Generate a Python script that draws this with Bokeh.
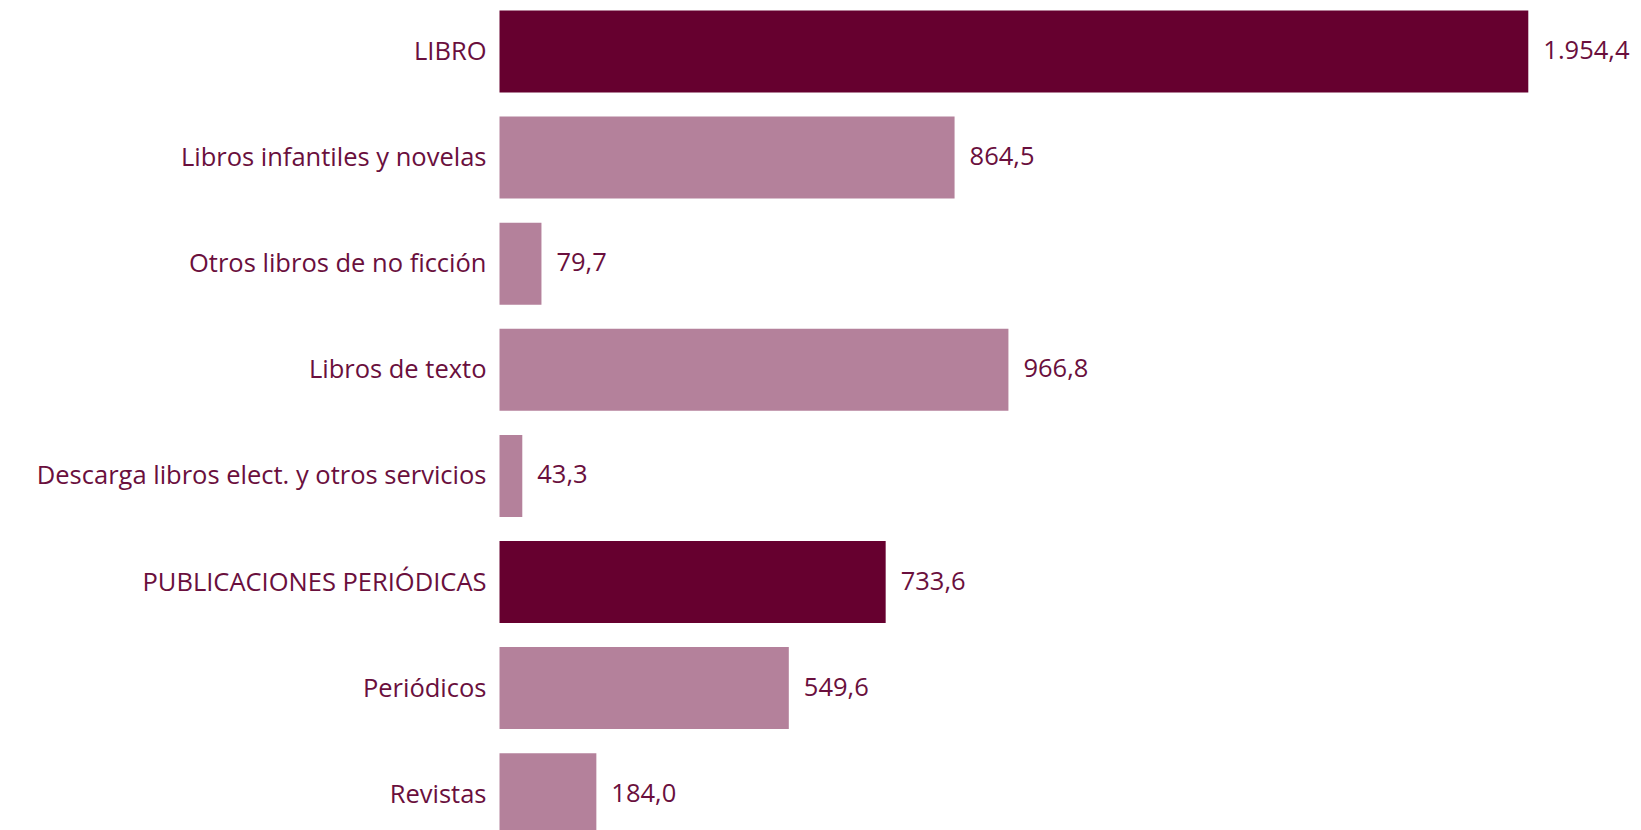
from bokeh.plotting import figure
from bokeh.models import ColumnDataSource, Range1d
from bokeh.core.properties import value
from bokeh.embed import file_html
from bokeh.resources import INLINE

categories = [
    "LIBRO",
    "Libros infantiles y novelas",
    "Otros libros de no ficción",
    "Libros de texto",
    "Descarga libros elect. y otros servicios",
    "PUBLICACIONES PERIÓDICAS",
    "Periódicos",
    "Revistas",
]
values = [1954.4, 864.5, 79.7, 966.8, 43.3, 733.6, 549.6, 184.0]
is_total = [True, False, False, False, False, True, False, False]
value_labels = ["1.954,4", "864,5", "79,7", "966,8", "43,3", "733,6", "549,6", "184,0"]

DARK = "#66002f"
LIGHT = "#b4819b"
TEXT = "#6a0f3d"

pos = list(range(len(categories)))
tot = ColumnDataSource(dict(
    y=[p_ for p_, t in zip(pos, is_total) if t],
    v=[v for v, t in zip(values, is_total) if t]))
sub = ColumnDataSource(dict(
    y=[p_ for p_, t in zip(pos, is_total) if not t],
    v=[v for v, t in zip(values, is_total) if not t]))
lab = ColumnDataSource(dict(y=pos, x=[0] * len(pos), t=categories,
                            v=values, vl=value_labels))

W, H = 1641, 830
zero_px = 499.0
scale = (1527.8 - 499.0) / 1954.4
pitch = 106.1
first_center = 51.0

p = figure(width=W, height=H, output_backend="svg", toolbar_location=None,
           x_range=Range1d(-zero_px / scale, (W - zero_px) / scale),
           y_range=Range1d((H - first_center) / pitch, -first_center / pitch),
           min_border=0, outline_line_color=None)
p.axis.visible = False
p.grid.visible = False
p.background_fill_color = "white"

p.hbar(y="y", right="v", left=0, height=0.773, source=tot,
       fill_color=DARK, line_color=None)
p.hbar(y="y", right="v", left=0, height=0.773, source=sub,
       fill_color=LIGHT, line_color=None)

p.text(x="x", y="y", text="t", source=lab, x_offset=-13, y_offset=-1.5,
       text_align="right", text_baseline="middle",
       text_font=value("Open Sans"), text_font_size="25.5px", text_color=TEXT)
p.text(x="v", y="y", text="vl", source=lab, x_offset=15, y_offset=-1.5,
       text_align="left", text_baseline="middle",
       text_font=value("Open Sans"), text_font_size="25.5px", text_color=TEXT)

open("out.html", "w").write(file_html(p, INLINE))
